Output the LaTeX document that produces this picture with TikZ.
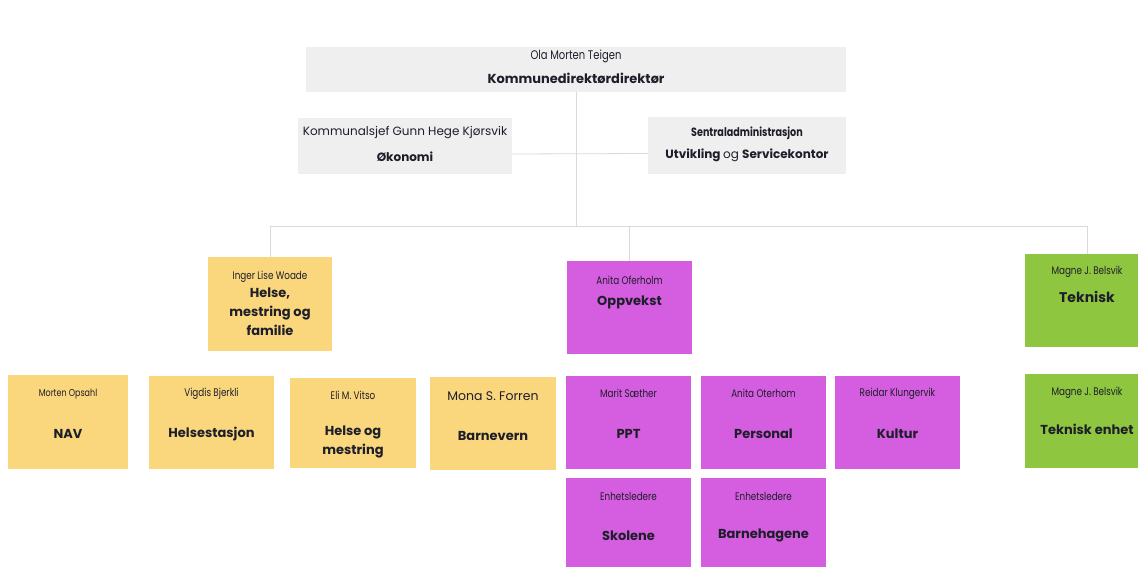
\documentclass[tikz,border=0pt]{standalone}
\usepackage{fontspec}
\setmainfont{Poppins}
\newfontfamily\smalnavn[FakeStretch=0.8]{Poppins}
\usepackage{tikz}
\usetikzlibrary{arrows, calc, positioning}
\definecolor{gulboks}{HTML}{FAD77D}
\definecolor{lillaboks}{HTML}{D45DE0}
\definecolor{gronnboks}{HTML}{8EC63F}
\definecolor{graboks}{HTML}{EFEFEF}
\definecolor{linje}{HTML}{DADADA}
\definecolor{tekst}{HTML}{1E1E2A}

\begin{document}
\begin{tikzpicture}[x=1pt, y=-1pt,
	boks/.style={draw=none, inner sep=0pt, minimum width=125pt, minimum height=93pt},
	gul/.style={boks, fill=gulboks},
	lilla/.style={boks, fill=lillaboks},
	gronn/.style={boks, fill=gronnboks},
	gra/.style={boks, fill=graboks},
	navn/.style={inner sep=0pt, text=tekst, font=\smalnavn\fontsize{11}{13}\selectfont},
	vanlig/.style={inner sep=0pt, text=tekst, font=\fontsize{12}{14}\selectfont},
	tittel/.style={inner sep=0pt, text=tekst, align=center, font=\bfseries\fontsize{13}{19}\selectfont},
	linjer/.style={draw=linje, line width=0.8pt}]
			\useasboundingbox (0,0) rectangle (1138,567);
			\fill[white] (0,0) rectangle (1138,567);
			\node[gra, minimum width=540pt, minimum height=45pt] (topp) at (576,69.5) {};
			\node[gra, minimum width=214pt, minimum height=56pt] (okonomi) at (405,146) {};
			\node[gra, minimum width=198pt, minimum height=57pt] (sentral) at (747,145.5) {};
			\node[gul, minimum width=124pt, minimum height=94pt] (helse) at (270,304) {};
			\node[lilla] (oppvekst) at (629.5,307.5) {};
			\node[gronn] (teknisk) at (1087,300.5) {};
			\node[gul, minimum width=120pt, minimum height=94pt] (nav) at (68,422) {};
			\node[gul] (helsestasjon) at (211.5,422.5) {};
			\node[gul, minimum width=126pt, minimum height=90pt] (mestring) at (353,423) {};
			\node[gul, minimum width=126pt] (barnevern) at (493,423.5) {};
			\node[lilla] (ppt) at (628.5,422.5) {};
			\node[lilla] (personal) at (763.5,422.5) {};
			\node[lilla] (kultur) at (897.5,422.5) {};
			\node[lilla] (skolene) at (628.5,524.5) {};
			\node[lilla] (barnehagene) at (763.5,524.5) {};
			\node[gronn, minimum height=94pt] (tekniskenhet) at (1087,421) {};
			\coordinate (buss) at (576,226);
			\draw[linjer] (topp.south) -- (buss);
			\draw[linjer] ([yshift=-8pt]okonomi.east) -- ([yshift=-8pt]sentral.west);
			\draw[linjer] (helse.north) |- (teknisk.north |- buss) -- (teknisk.north);
			\draw[linjer] (oppvekst.north) -- (oppvekst.north |- buss);
			\node[navn, font=\smalnavn\fontsize{12.5}{14}\selectfont] at ([yshift=-10pt]topp.north) {Ola Morten Teigen};
			\node[tittel] at ([yshift=-32pt]topp.north) {Kommunedirektørdirektør};
			\node[vanlig] at ([yshift=-15pt]okonomi.north) {Kommunalsjef Gunn Hege Kjørsvik};
			\node[tittel, font=\bfseries\fontsize{12}{15}\selectfont] at ([yshift=-39pt]okonomi.north) {Økonomi};
			\node[navn, font=\smalnavn\bfseries\fontsize{12}{14}\selectfont] at ([yshift=-16pt]sentral.north) {Sentraladministrasjon};
			\node[tittel, font=\bfseries\fontsize{12}{15}\selectfont] at ([yshift=-39pt]sentral.north) {Utvikling \mdseries og \bfseries Servicekontor};
			\node[navn] at ([yshift=-20pt]helse.north) {Inger Lise Woade};
			\node[tittel] at ([yshift=-55pt]helse.north) {Helse,\\mestring og\\familie};
			\node[navn] at ([yshift=-20pt]oppvekst.north) {Anita Oferholm};
			\node[tittel] at ([yshift=-42pt]oppvekst.north) {Oppvekst};
			\node[navn] at ([yshift=-18pt]teknisk.north) {Magne J. Belsvik};
			\node[tittel, font=\bfseries\fontsize{14}{15}\selectfont] at ([yshift=-43pt]teknisk.north) {Teknisk};
			\node[navn, font=\smalnavn\fontsize{10}{12}\selectfont] at ([yshift=-19pt]nav.north) {Morten Opsahl};
			\node[tittel] at ([yshift=-59pt]nav.north) {NAV};
			\node[navn] at ([yshift=-18pt]helsestasjon.north) {Vigdis Bjerkli};
			\node[tittel] at ([yshift=-58pt]helsestasjon.north) {Helsestasjon};
			\node[navn] at ([yshift=-18pt]mestring.north) {Eli M. Vitso};
			\node[tittel] at ([yshift=-64.5pt]mestring.north) {Helse og\\mestring};
			\node[vanlig, font=\fontsize{12.5}{14}\selectfont] at ([yshift=-19pt]barnevern.north) {Mona S. Forren};
			\node[tittel] at ([yshift=-59pt]barnevern.north) {Barnevern};
			\node[navn] at ([yshift=-18pt]ppt.north) {Marit Sæther};
			\node[tittel] at ([yshift=-58pt]ppt.north) {PPT};
			\node[navn] at ([yshift=-18pt]personal.north) {Anita Oterhom};
			\node[tittel] at ([yshift=-58pt]personal.north) {Personal};
			\node[navn] at ([yshift=-18pt]kultur.north) {Reidar Klungervik};
			\node[tittel] at ([yshift=-58pt]kultur.north) {Kultur};
			\node[navn] at ([yshift=-19pt]skolene.north) {Enhetsledere};
			\node[tittel] at ([yshift=-58pt]skolene.north) {Skolene};
			\node[navn] at ([yshift=-19pt]barnehagene.north) {Enhetsledere};
			\node[tittel] at ([yshift=-58pt]barnehagene.north) {Barnehagene};
			\node[navn] at ([yshift=-19pt]tekniskenhet.north) {Magne J. Belsvik};
			\node[tittel] at ([yshift=-56pt]tekniskenhet.north) {Teknisk enhet};
\end{tikzpicture}
\end{document}
